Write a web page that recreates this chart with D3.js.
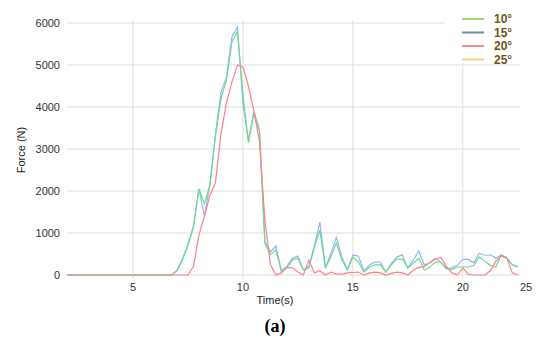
<!DOCTYPE html>
<html>
<head>
<meta charset="utf-8">
<script src="https://cdn.jsdelivr.net/npm/d3@7"></script>
<style>
  body { margin: 0; background: #fff; }
  text { font-family: "Liberation Sans", Arial, sans-serif; }
</style>
</head>
<body>
<div id="chart"></div>
<script>
// time samples (s)
let time = [2, 6.5, 6.75, 7, 7.25, 7.5, 7.75, 8, 8.25, 8.5, 8.75, 9, 9.25, 9.5, 9.75, 10,
  10.25, 10.5, 10.75, 11, 11.25, 11.5, 11.75, 12, 12.25, 12.5, 12.75, 13, 13.25, 13.5, 13.75,
  14, 14.25, 14.5, 14.75, 15, 15.25, 15.5, 15.75, 16, 16.25, 16.5, 16.75, 17, 17.25, 17.5,
  17.75, 18, 18.25, 18.5, 18.75, 19, 19.25, 19.5, 19.75, 20, 20.25, 20.5, 20.75, 21, 21.25,
  21.5, 21.75, 22, 22.25, 22.5];

let force10 = [0, 0, 0, 100, 360, 700, 1140, 2050, 1700, 2150, 3300, 4200, 4640, 5550, 5800, 4300,
  3150, 3880, 3450, 750, 480, 600, 70, 170, 360, 400, 120, 170, 670, 1070, 170,
  430, 760, 350, 120, 430, 310, 70, 190, 240, 240, 70, 240, 380, 380, 170,
  280, 400, 120, 190, 310, 310, 170, 130, 190, 190, 190, 230, 430, 330, 230,
  190, 480, 400, 250, 200];

let force15 = [0, 0, 0, 110, 380, 720, 1160, 2050, 1400, 2150, 3350, 4350, 4700, 5670, 5900, 4100,
  3200, 3880, 3450, 800, 550, 690, 100, 210, 400, 450, 120, 200, 700, 1260, 170,
  510, 900, 430, 120, 480, 450, 100, 240, 310, 310, 70, 280, 430, 480, 170,
  360, 570, 240, 290, 400, 300, 140, 170, 230, 370, 370, 290, 520, 470, 480,
  400, 480, 420, 240, 190];

let force20 = [0, 0, 0, 0, 0, 0, 200, 950, 1400, 1900, 2200, 3350, 4100, 4600, 5000, 4950,
  4500, 3900, 3200, 1300, 250, 0, 50, 180, 170, 70, 0, 350, 50, 100, 0,
  70, 20, 20, 50, 60, 70, 0, 50, 70, 50, 0, 40, 70, 50, 0,
  120, 180, 200, 290, 380, 420, 210, 50, 0, 170, 20, 0, 0, 0, 100,
  330, 450, 400, 50, 0];

let xTicks = [5, 10, 15, 20];
let yTicks = [0, 1000, 2000, 3000, 4000, 5000, 6000];
let legendNames = ["10°", "15°", "20°", "25°"];
let legendColors = ["#97dc6e", "#6f8aa3", "#f48a8a", "#f5d27c"];

let width = 550, height = 345;
let margin = { left: 67, right: 30, top: 23, bottom: 70 };
let xMax = 22.6;

let svg = d3.select("#chart").append("svg")
  .attr("width", width)
  .attr("height", height);

let x = d3.scaleLinear().domain([2, xMax]).range([margin.left, width - margin.right]);
let y = d3.scaleLinear().domain([0, 6000]).range([height - margin.bottom, margin.top]);

// grid
svg.append("g").selectAll("line.h")
  .data(yTicks).enter().append("line")
  .attr("x1", x(2)).attr("x2", x(xMax))
  .attr("y1", d => y(d)).attr("y2", d => y(d))
  .attr("stroke", "#dcdcdc").attr("stroke-width", 1);

svg.append("g").selectAll("line.v")
  .data(xTicks).enter().append("line")
  .attr("x1", d => x(d)).attr("x2", d => x(d))
  .attr("y1", y(0) + 4).attr("y2", y(6000) - 3)
  .attr("stroke", "#dcdcdc").attr("stroke-width", 1);

// y labels
svg.append("g").selectAll("text")
  .data(yTicks).enter().append("text")
  .attr("x", 60).attr("y", d => y(d) + 4)
  .attr("text-anchor", "end")
  .attr("font-size", 11).attr("fill", "#333")
  .text(d => d);

// x labels (last label sits at the right edge)
let xLabels = xTicks.map(d => ({ v: d, label: String(d) }));
xLabels.push({ v: xMax, label: "25" });
svg.append("g").selectAll("text")
  .data(xLabels).enter().append("text")
  .attr("x", (d, i) => x(d.v) + (i === xLabels.length - 1 ? 6 : 0))
  .attr("y", y(0) + 16)
  .attr("text-anchor", "middle")
  .attr("font-size", 11).attr("fill", "#333")
  .text(d => d.label);

// lines (blue underneath, then green, then red)
let series = [
  { values: force15, color: "#93b6f2" },
  { values: force10, color: "#6fd98e" },
  { values: force20, color: "#ff8088" }
];
let line = d3.line()
  .x((d, i) => x(time[i]))
  .y(d => y(d));

series.forEach(s => {
  svg.append("path")
    .datum(s.values)
    .attr("d", line)
    .attr("fill", "none")
    .attr("stroke", s.color)
    .attr("stroke-width", 1.2);
});

// legend
let legend = svg.append("g");
legend.append("rect")
  .attr("x", 445).attr("y", 5).attr("width", 80).attr("height", 58)
  .attr("fill", "#fff");
let keys = legend.selectAll("g.key")
  .data(legendNames).enter().append("g")
  .attr("transform", (d, i) => `translate(0, ${19 + i * 13.5})`);
keys.append("line")
  .attr("x1", 462).attr("x2", 484).attr("y1", 0).attr("y2", 0)
  .attr("stroke", (d, i) => legendColors[i]).attr("stroke-width", 2);
keys.append("text")
  .attr("x", 494).attr("y", 4)
  .attr("font-size", 12).attr("font-weight", "bold")
  .attr("fill", "#6b5520")
  .text(d => d);

// axis titles
svg.append("text")
  .attr("transform", `translate(25, ${150}) rotate(-90)`)
  .attr("text-anchor", "middle")
  .attr("font-size", 11).attr("fill", "#222")
  .text("Force (N)");

svg.append("text")
  .attr("x", 275).attr("y", 304)
  .attr("text-anchor", "middle")
  .attr("font-size", 11).attr("fill", "#222")
  .text("Time(s)");

svg.append("text")
  .attr("x", 275).attr("y", 332)
  .attr("text-anchor", "middle")
  .attr("font-size", 18).attr("font-weight", "bold").attr("fill", "#000")
  .style("font-family", "'Liberation Serif', serif")
  .text("(a)");
</script>
</body>
</html>
